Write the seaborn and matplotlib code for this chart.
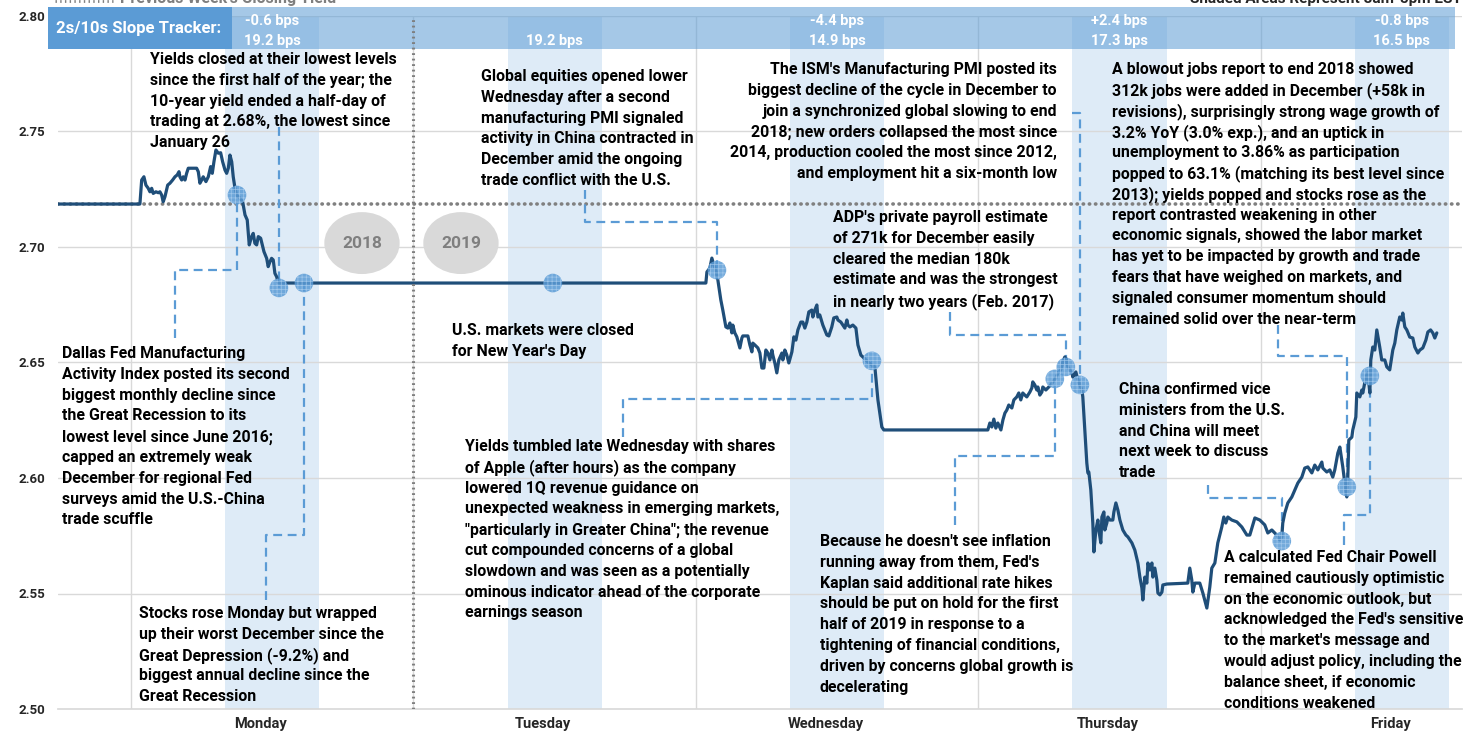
import numpy as np
import pandas as pd
import matplotlib
matplotlib.use("Agg")
import matplotlib.pyplot as plt
import matplotlib.transforms as mtransforms
from matplotlib.patches import Rectangle, Ellipse
from matplotlib.lines import Line2D
import seaborn as sns

# =====================
# DATA (hours from Monday 00:00, 10-year yield in %)
# =====================
prev_close = 2.7186

mon_hours = [-6.2, 0.76, 0.91, 1.10, 1.27, 1.47, 1.61, 1.76, 1.89, 2.12, 2.32, 2.46, 2.61, 2.74, 2.89,
             3.12, 3.31, 3.54, 3.74, 3.93, 4.08, 4.16, 4.31, 4.44, 4.59, 4.73, 4.87, 5.58, 5.72, 5.86,
             6.01, 6.14, 6.37, 6.57, 6.77, 6.91, 7.05, 7.22, 7.42, 7.62, 7.79, 7.99, 8.13, 8.27, 8.41,
             8.56, 8.69, 8.84, 8.98, 9.26, 9.49, 9.69, 9.88, 10.05, 10.25, 10.39, 10.53, 10.68, 10.82,
             11.02, 11.16, 11.30, 11.53, 11.66, 11.81, 11.95, 12.09, 12.23, 12.38, 12.51]
mon_yield = [2.7186, 2.7186, 2.7290, 2.7304, 2.7268, 2.7254, 2.7239, 2.7254, 2.7232, 2.7239, 2.7235,
             2.7239, 2.7225, 2.7196, 2.7218, 2.7268, 2.7276, 2.7290, 2.7304, 2.7312, 2.7326, 2.7304,
             2.7290, 2.7304, 2.7290, 2.7319, 2.7341, 2.7341, 2.7326, 2.7276, 2.7290, 2.7304, 2.7283,
             2.7304, 2.7348, 2.7319, 2.7369, 2.7420, 2.7406, 2.7408, 2.7369, 2.7333, 2.7319, 2.7341,
             2.7398, 2.7369, 2.7304, 2.7254, 2.7225, 2.7211, 2.7196, 2.7139, 2.7117, 2.7009, 2.7045,
             2.7059, 2.7016, 2.7009, 2.7045, 2.7038, 2.7009, 2.6980, 2.6951, 2.6915, 2.6936, 2.6951,
             2.6944, 2.6886, 2.6871, 2.6845]

hol_hours = [12.66, 48.85]
hol_yield = [2.6844, 2.6844]

wed_hours = [48.94, 49.19, 49.36, 49.53, 49.70, 49.87, 50.12, 50.29, 50.55, 50.72, 50.89, 51.06, 51.14,
             51.31, 51.48, 51.74, 51.91, 51.99, 52.42, 52.59, 52.76, 52.84, 53.01, 53.27, 53.44, 53.61,
             53.78, 53.95, 54.12, 54.29, 54.46, 54.54, 54.71, 54.88, 55.05, 55.31, 55.39, 55.56, 55.73,
             55.90, 56.16, 56.33, 56.50, 56.67, 56.92, 57.09, 57.26, 57.43, 57.60, 57.85, 57.94, 58.11,
             58.28, 58.37, 58.53, 58.79, 58.96, 59.13, 59.30, 59.55, 59.72, 59.98, 60.07, 60.32, 60.49,
             60.66, 60.83, 60.92, 61.09, 61.34, 61.60, 61.77, 62.02, 62.19, 62.62, 62.96, 63.21, 63.47,
             63.80, 63.97]
wed_yield = [2.6892, 2.6909, 2.6952, 2.6922, 2.6900, 2.6857, 2.6771, 2.6727, 2.6654, 2.6649, 2.6671,
             2.6628, 2.6662, 2.6628, 2.6611, 2.6563, 2.6606, 2.6615, 2.6615, 2.6576, 2.6546, 2.6584,
             2.6576, 2.6563, 2.6541, 2.6476, 2.6476, 2.6554, 2.6541, 2.6511, 2.6554, 2.6532, 2.6498,
             2.6455, 2.6511, 2.6541, 2.6511, 2.6554, 2.6532, 2.6498, 2.6546, 2.6611, 2.6597, 2.6641,
             2.6675, 2.6675, 2.6649, 2.6675, 2.6719, 2.6727, 2.6697, 2.6727, 2.6749, 2.6697, 2.6706,
             2.6662, 2.6641, 2.6619, 2.6615, 2.6654, 2.6693, 2.6697, 2.6684, 2.6675, 2.6662, 2.6649,
             2.6684, 2.6662, 2.6654, 2.6662, 2.6649, 2.6576, 2.6532, 2.6524, 2.6502, 2.6489, 2.6481,
             2.6338, 2.6221, 2.6208]

thu_hours = [72.81, 72.98, 73.15, 73.32, 73.49, 73.66, 73.92, 74.09, 74.26, 74.42,
             74.59, 74.85, 75.02, 75.27, 75.44, 75.61, 75.78, 75.95, 76.12, 76.38,
             76.55, 76.63, 76.80, 76.97, 77.06, 77.23, 77.40, 77.48, 77.74, 77.91,
             78.16, 78.33, 78.59, 78.76, 79.01, 79.18, 79.35, 79.52, 79.61, 79.78,
             79.95, 80.03, 80.29, 80.46, 80.80, 80.88, 81.05, 81.22, 81.31, 81.39,
             81.56, 81.73, 81.82, 81.99, 82.16, 82.24, 82.41, 82.50, 82.67, 82.75,
             82.92, 83.01, 83.18, 83.43, 83.52, 83.69, 83.86, 84.03, 84.20, 84.28,
             84.54, 84.71, 85.05, 85.30, 85.56, 85.73, 85.90, 85.98, 86.15, 86.32,
             86.41, 86.58, 86.75, 86.83, 87.00, 87.17, 87.26, 87.43, 87.60, 87.68,
             88.02, 89.80, 89.97, 90.14, 90.23, 90.40, 90.82, 91.08, 91.42, 91.67,
             91.84, 92.10, 92.35, 92.69, 92.86, 93.03, 93.20, 93.54, 93.97, 94.39,
             94.82, 95.07, 95.50, 95.92]
thu_yield = [2.6208, 2.6238, 2.6221, 2.6255, 2.6216, 2.6238, 2.6208, 2.6251, 2.6281, 2.6294,
             2.6316, 2.6303, 2.6338, 2.6351, 2.6368, 2.6338, 2.6368, 2.6359, 2.6351, 2.6372,
             2.6390, 2.6416, 2.6403, 2.6381, 2.6394, 2.6359, 2.6372, 2.6394, 2.6381, 2.6390,
             2.6403, 2.6416, 2.6433, 2.6455, 2.6468, 2.6502, 2.6524, 2.6511, 2.6481, 2.6468,
             2.6455, 2.6437, 2.6459, 2.6424, 2.6381, 2.6351, 2.6208, 2.6065, 2.6022, 2.6026,
             2.5948, 2.5805, 2.5680, 2.5775, 2.5818, 2.5775, 2.5719, 2.5831, 2.5853, 2.5775,
             2.5805, 2.5831, 2.5818, 2.5818, 2.5853, 2.5892, 2.5861, 2.5818, 2.5788, 2.5775,
             2.5753, 2.5745, 2.5719, 2.5688, 2.5632, 2.5571, 2.5524, 2.5472, 2.5571, 2.5545,
             2.5632, 2.5602, 2.5632, 2.5571, 2.5610, 2.5558, 2.5502, 2.5494, 2.5506, 2.5537,
             2.5541, 2.5545, 2.5610, 2.5558, 2.5506, 2.5545, 2.5545, 2.5502, 2.5437, 2.5528,
             2.5610, 2.5632, 2.5719, 2.5788, 2.5831, 2.5805, 2.5831, 2.5818, 2.5810, 2.5788,
             2.5753, 2.5753, 2.5827, 2.5818]

fri_hours = [96.34, 96.60, 96.94, 97.36, 97.62, 97.79, 97.87, 98.04, 98.30, 98.64,
             98.89, 99.15, 99.49, 99.74, 100.00, 100.34, 100.59, 100.85, 101.19, 101.27,
             101.61, 101.87, 102.12, 102.29, 102.55, 102.72, 102.97, 103.14, 103.31, 103.40,
             103.48, 103.74, 103.82, 104.08, 104.16, 104.42, 104.59, 104.67, 104.93, 105.10,
             105.27, 105.35, 105.52, 105.69, 105.86, 106.11, 106.28, 106.54, 106.71, 106.96,
             107.22, 107.39, 107.56, 107.81, 107.98, 108.07, 108.24, 108.41, 108.66, 108.92,
             109.09, 109.35, 109.52, 109.77, 110.03, 110.20, 110.43, 110.62, 110.79, 110.96]
fri_yield = [2.5797, 2.5762, 2.5775, 2.5753, 2.5732, 2.5745, 2.5805, 2.5848, 2.5892, 2.5918,
             2.5948, 2.5978, 2.6004, 2.6043, 2.6048, 2.6022, 2.6056, 2.6035, 2.6069, 2.6043,
             2.6026, 2.6035, 2.6004, 2.6035, 2.6108, 2.6134, 2.6048, 2.5978, 2.5918, 2.6004,
             2.6164, 2.6177, 2.6208, 2.6264, 2.6368, 2.6351, 2.6381, 2.6368, 2.6437, 2.6455,
             2.6368, 2.6511, 2.6567, 2.6554, 2.6641, 2.6567, 2.6511, 2.6511, 2.6481, 2.6468,
             2.6554, 2.6584, 2.6641, 2.6697, 2.6684, 2.6714, 2.6654, 2.6641, 2.6610, 2.6606,
             2.6567, 2.6541, 2.6554, 2.6563, 2.6597, 2.6632, 2.6641, 2.6628, 2.6606, 2.6628]

# news events marked on the line
event_hours = [9.01, 12.57, 14.70, 35.85, 49.79, 62.96, 78.50, 79.44, 80.63, 97.79, 103.31, 105.27]
event_yields = [2.7225, 2.6823, 2.6844, 2.6844, 2.6900, 2.6507, 2.6429, 2.6481, 2.6403, 2.5727, 2.5961, 2.6442]

day_names = ["Monday", "Tuesday", "Wednesday", "Thursday", "Friday"]
slope_change = ["-0.6 bps", "", "-4.4 bps", "+2.4 bps", "-0.8 bps"]
slope_level = ["19.2 bps", "19.2 bps", "14.9 bps", "17.3 bps", "16.5 bps"]
y_ticks = [2.50, 2.55, 2.60, 2.65, 2.70, 2.75, 2.80]

notes = {
    "closed": "Yields closed at their lowest levels\nsince the first half of the year; the\n10-year yield ended a half-day of\ntrading at 2.68%, the lowest since\nJanuary 26",
    "equities": "Global equities opened lower\nWednesday after a second\nmanufacturing PMI signaled\nactivity in China contracted in\nDecember amid the ongoing\ntrade conflict with the U.S.",
    "ism": "The ISM's Manufacturing PMI posted its\nbiggest decline of the cycle in December to\njoin a synchronized global slowing to end\n2018; new orders collapsed the most since\n2014, production cooled the most since 2012,\nand employment hit a six-month low",
    "jobs": "A blowout jobs report to end 2018 showed\n312k jobs were added in December (+58k in\nrevisions), surprisingly strong wage growth of\n3.2% YoY (3.0% exp.), and an uptick in\nunemployment to 3.86% as participation\npopped to 63.1% (matching its best level since\n2013); yields popped and stocks rose as the\nreport contrasted weakening in other\neconomic signals, showed the labor market\nhas yet to be impacted by growth and trade\nfears that have weighed on markets, and\nsignaled consumer momentum should\nremained solid over the near-term",
    "adp": "ADP's private payroll estimate\nof 271k for December easily\ncleared the median 180k\nestimate and was the strongest\nin nearly two years (Feb. 2017)",
    "holiday": "U.S. markets were closed\nfor New Year's Day",
    "dallas": "Dallas Fed Manufacturing\nActivity Index posted its second\nbiggest monthly decline since\nthe Great Recession to its\nlowest level since June 2016;\ncapped an extremely weak\nDecember for regional Fed\nsurveys amid the U.S.-China\ntrade scuffle",
    "apple": "Yields tumbled late Wednesday with shares\nof Apple (after hours) as the company\nlowered 1Q revenue guidance on\nunexpected weakness in emerging markets,\n\"particularly in Greater China\"; the revenue\ncut compounded concerns of a global\nslowdown and was seen as a potentially\nominous indicator ahead of the corporate\nearnings season",
    "china": "China confirmed vice\nministers from the U.S.\nand China will meet\nnext week to discuss\ntrade",
    "kaplan": "Because he doesn't see inflation\nrunning away from them, Fed's\nKaplan said additional rate hikes\nshould be put on hold for the first\nhalf of 2019 in response to a\ntightening of financial conditions,\ndriven by concerns global growth is\ndecelerating",
    "stocks": "Stocks rose Monday but wrapped\nup their worst December since the\nGreat Depression (-9.2%) and\nbiggest annual decline since the\nGreat Recession",
    "powell": "A calculated Fed Chair Powell\nremained cautiously optimistic\non the economic outlook, but\nacknowledged the Fed's sensitive\nto the market's message and\nwould adjust policy, including the\nbalance sheet, if economic\nconditions weakened",
}

df = pd.DataFrame({
    "hour": mon_hours + hol_hours + wed_hours + thu_hours + fri_hours,
    "yield": mon_yield + hol_yield + wed_yield + thu_yield + fri_yield,
})
events = pd.DataFrame({"hour": event_hours, "yield": event_yields})

# =====================
# LAYOUT
# =====================
W, H = 1473, 735
LINE_C = "#1f4e79"
ACCENT = "#5b9bd5"
SHADE = "#deebf7"
GRID = "#d9d9d9"

sns.set_theme(style="white")
plt.rcParams["font.family"] = ["Roboto", "DejaVu Sans"]
plt.rcParams["hatch.linewidth"] = 0.5
plt.rcParams["hatch.color"] = "#a9cdee"


def fx(px):
    return px / W


def fy(py):
    return 1 - py / H


fig = plt.figure(figsize=(W / 100, H / 100), dpi=100)
ax = fig.add_axes([fx(58), (H - 709) / H, 1404 / W, 693 / H])
ax.set_xlim(-6.2, 113.1)
ax.set_ylim(2.50, 2.80)

# shaded 8am-5pm areas and grid
for d in range(5):
    ax.axvspan(d * 24 + 8, d * 24 + 16, color=SHADE, lw=0, zorder=0)
    ax.axvline(d * 24, color=GRID, lw=1, zorder=0.5)
for v in y_ticks[1:]:
    ax.axhline(v, color=GRID, lw=1, zorder=0.5)

# previous week's close
ax.axhline(prev_close, color="#808080", lw=2.6, ls=(0, (0.1, 1.6)),
           dash_capstyle="round", zorder=1)

# year bubbles
for xc, label in [(19.63, "2018"), (28.04, "2019")]:
    ax.add_patch(Ellipse((xc, 2.7017), 6.4, 0.0268, color="#d9d9d9", lw=0, zorder=1))
    ax.text(xc, 2.7017, label, ha="center", va="center", fontsize=12.5,
            fontweight="bold", color="#7f7f7f", zorder=2)

# elbow connectors: waypoints, then the event marker
connectors = [
    (1, [(12.57, 2.7519)]),
    (0, [(3.74, 2.6606), (3.74, 2.6900), (9.01, 2.6900)]),
    (2, [(11.47, 2.5472), (11.47, 2.5753), (14.70, 2.5753)]),
    (4, [(38.57, 2.7247), (38.57, 2.7108), (49.79, 2.7108)]),
    (5, [(41.80, 2.6177), (41.80, 2.6342), (62.96, 2.6342)]),
    (7, [(69.58, 2.6719), (69.58, 2.6619), (79.44, 2.6619)]),
    (6, [(70.01, 2.5797), (70.01, 2.6095), (78.50, 2.6095)]),
    (8, [(79.95, 2.7580), (80.63, 2.7580)]),
    (9, [(91.50, 2.5970), (91.50, 2.5913), (97.79, 2.5913)]),
    (10, [(97.45, 2.6662), (97.45, 2.6528), (103.31, 2.6528)]),
    (11, [(103.05, 2.5710), (103.05, 2.5840), (105.27, 2.5840)]),
]
for idx, pts in connectors:
    xs = [p[0] for p in pts] + [event_hours[idx]]
    ys = [p[1] for p in pts] + [event_yields[idx]]
    ax.plot(xs, ys, color=ACCENT, lw=1.6, ls=(0, (4, 2.5)), zorder=2)

# yield line and event markers
sns.lineplot(data=df, x="hour", y="yield", color=LINE_C, lw=2.3,
             estimator=None, sort=False, ax=ax, zorder=3)
sns.scatterplot(data=events, x="hour", y="yield", s=180, color=ACCENT,
                edgecolor="#a9cdee", linewidth=0, alpha=0.85, hatch="++++",
                ax=ax, zorder=4)

# year separator
ax.axvline(24, color="#7f7f7f", lw=2.2, ls=(0, (0.6, 1.2)), zorder=8)

# axes styling
for s in ["top", "right", "left"]:
    ax.spines[s].set_visible(False)
ax.spines["bottom"].set_color(GRID)
ax.set_yticks(y_ticks)
ax.set_yticklabels([f"{v:.2f}" for v in y_ticks])
ax.set_xticks([d * 24 + 11 for d in range(5)])
ax.set_xticklabels(day_names)
ax.tick_params(axis="y", length=0, pad=9.5, labelsize=9.5, labelcolor="#262626")
ax.tick_params(axis="x", length=0, pad=6, labelsize=10.5, labelcolor="#262626")
for lbl in ax.get_yticklabels() + ax.get_xticklabels():
    lbl.set_fontweight("bold")
ax.set_xlabel("")
ax.set_ylabel("")

# slope tracker band
ax.add_patch(Rectangle((fx(232), fy(49)), (1455 - 232) / W, 42 / H, transform=fig.transFigure,
                       facecolor=ACCENT, alpha=0.55, lw=0, clip_on=False, zorder=6))
ax.add_patch(Rectangle((fx(48), fy(49)), (232 - 48) / W, 42 / H, transform=fig.transFigure,
                       facecolor=ACCENT, lw=0, clip_on=False, zorder=6))
ax.text(fx(139), fy(28), "2s/10s Slope Tracker:", transform=fig.transFigure, ha="center",
        va="center", color="white", fontsize=12, fontweight="bold", zorder=7)
band_tr = mtransforms.blended_transform_factory(ax.transData, fig.transFigure)
for d in range(5):
    ax.text(d * 24 + 12, fy(21), slope_change[d], transform=band_tr, ha="center", va="center",
            color="white", fontsize=10.5, fontweight="bold", zorder=7, clip_on=False)
    ax.text(d * 24 + 12, fy(41), slope_level[d], transform=band_tr, ha="center", va="center",
            color="white", fontsize=10.5, fontweight="bold", zorder=7, clip_on=False)

# header texts, cropped by the top edge as in the source
fig.add_artist(Line2D([fx(55), fx(113)], [fy(1), fy(1)], color="#808080", lw=2,
                      ls=(0, (0.5, 1.2))))
fig.text(fx(120), fy(3), "Previous Week's Closing Yield", color="#7f7f7f", fontsize=11.5,
         fontweight="bold", va="baseline")
fig.text(fx(1190), fy(3), "Shaded Areas Represent 8am-5pm EST", color="#262626", fontsize=11,
         fontweight="bold", va="baseline")


# annotation texts
def note(px, py, key, ha="left"):
    for i, line in enumerate(notes[key].split("\n")):
        fig.text(fx(px), fy(py + i * 20.8), line, ha=ha, va="center_baseline",
                 fontsize=11.4, fontweight="bold", color="black")


note(150, 58, "closed")
note(481, 75, "equities")
note(1057, 68, "ism", ha="right")
note(1112, 68, "jobs")
note(833, 216, "adp")
note(452, 329, "holiday")
note(62, 352, "dallas")
note(465, 445, "apple")
note(1119, 388, "china")
note(820, 540, "kaplan")
note(139, 612, "stocks")
note(1224, 556, "powell")

fig.savefig("out.png", dpi=100)
